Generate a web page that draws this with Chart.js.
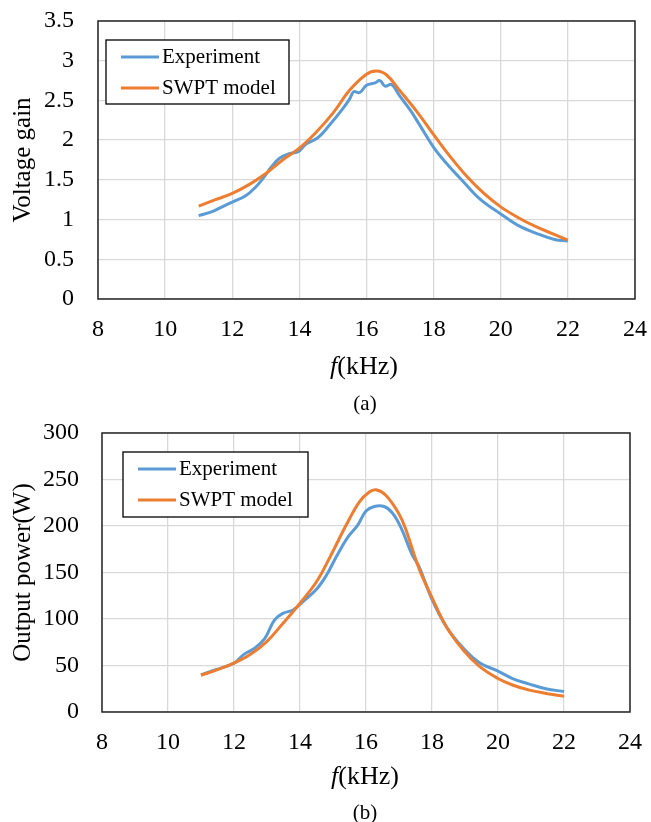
<!DOCTYPE html>
<html>
<head>
<meta charset="utf-8">
<script src="https://cdn.jsdelivr.net/npm/chart.js@4.4.1/dist/chart.umd.min.js"></script>
<style>
  html, body { margin:0; padding:0; background:#fff; }
  body { width:651px; height:822px; position:relative; overflow:hidden; font-family:"Liberation Serif","Times New Roman",serif; color:#000; }
  .wrap { position:absolute; left:0; width:651px; }
  #wrapA { top:0; height:400px; }
  #wrapB { top:400px; height:422px; }
  .lbl { position:absolute; transform:translate(-50%,-50%); white-space:nowrap; line-height:1; }
  .xt { font-size:26px; }
  .cap { font-size:21px; }
</style>
</head>
<body>
<div class="wrap" id="wrapA"><canvas id="chartA" width="651" height="400"></canvas></div>
<div class="wrap" id="wrapB"><canvas id="chartB" width="651" height="422"></canvas></div>
<div class="lbl xt" style="left:364px; top:366px;"><i>f</i>(kHz)</div>
<div class="lbl cap" style="left:365px; top:403px;">(a)</div>
<div class="lbl xt" style="left:365px; top:776px;"><i>f</i>(kHz)</div>
<div class="lbl cap" style="left:365px; top:812px;">(b)</div>

<script>
// (a) voltage gain
const expFreqA  = [11.0, 11.4, 11.7, 12.0, 12.4, 12.7, 12.9, 13.2, 13.4, 13.7, 13.95, 14.2, 14.55, 14.9, 15.3, 15.5, 15.62, 15.8, 16.0, 16.25, 16.4, 16.55, 16.75, 17.0, 17.3, 17.6, 18.0, 18.4, 18.9, 19.4, 19.9, 20.0, 20.5, 21.1, 21.6, 22.0];
const expGainA  = [1.05, 1.10, 1.16, 1.22, 1.30, 1.41, 1.51, 1.68, 1.77, 1.83, 1.85, 1.95, 2.03, 2.19, 2.40, 2.52, 2.61, 2.60, 2.69, 2.72, 2.75, 2.68, 2.70, 2.55, 2.38, 2.18, 1.91, 1.70, 1.47, 1.25, 1.10, 1.07, 0.93, 0.82, 0.75, 0.73];
const modFreqA  = [11.0, 11.5, 12.0, 12.5, 13.0, 13.5, 14.0, 14.5, 15.0, 15.5, 16.0, 16.3, 16.6, 17.0, 17.5, 18.0, 18.5, 19.0, 19.5, 20.0, 20.5, 21.0, 21.5, 22.0];
const modGainA  = [1.17, 1.25, 1.33, 1.44, 1.58, 1.75, 1.90, 2.10, 2.34, 2.63, 2.83, 2.87, 2.82, 2.62, 2.36, 2.07, 1.79, 1.54, 1.33, 1.16, 1.03, 0.92, 0.83, 0.74];

// (b) output power
const expFreqB  = [11.0, 11.45, 12.0, 12.3, 12.6, 12.93, 13.23, 13.48, 13.8, 14.1, 14.5, 14.8, 15.1, 15.45, 15.75, 16.0, 16.25, 16.55, 16.8, 17.05, 17.4, 17.6, 18.0, 18.43, 18.94, 19.44, 20.0, 20.44, 20.95, 21.45, 22.0];
const expPowB   = [40, 45.5, 52.5, 62, 68, 79, 99, 106, 110, 119, 132, 147, 167, 188, 201, 216, 221, 221, 214, 199, 169, 157, 121, 92, 69, 53, 44, 36, 30, 25, 22];
const modFreqB  = [11.0, 11.5, 12.0, 12.5, 13.0, 13.5, 14.0, 14.5, 14.9, 15.4, 15.8, 16.1, 16.3, 16.6, 17.0, 17.2, 17.6, 18.0, 18.43, 18.94, 19.44, 20.0, 20.44, 20.95, 21.45, 22.0];
const modPowB   = [39.5, 45.5, 52.5, 62, 76, 96, 117, 140, 166, 201, 226, 236.5, 239, 233, 213, 197, 155, 123, 92, 67, 49, 36, 29, 23.5, 20, 17];

const seriesLabels = ["Experiment", "SWPT model"];
const xTicks = [8, 10, 12, 14, 16, 18, 20, 22, 24];

const BLUE = "#5B9BD5", ORANGE = "#ED7D31";
Chart.defaults.font.family = "'Liberation Serif', 'Times New Roman', serif";
Chart.defaults.color = "#000";

const pts = (xs, ys) => xs.map((x, i) => ({ x, y: ys[i] }));

// black box round the plot area
const framePlugin = {
  id: "frame",
  afterDatasetsDraw(chart) {
    const { ctx, chartArea: a } = chart;
    ctx.save();
    ctx.strokeStyle = "#262626"; ctx.lineWidth = 1.5;
    ctx.strokeRect(a.left, a.top, a.right - a.left, a.bottom - a.top);
    ctx.restore();
  }
};

// boxed legend inside the plot, excel style
const boxLegend = {
  id: "boxLegend",
  afterDraw(chart, args, opts) {
    const { ctx, chartArea: a } = chart;
    const x = a.left + opts.x, y = a.top + opts.y;
    ctx.save();
    ctx.fillStyle = "#fff"; ctx.fillRect(x, y, opts.w, opts.h);
    ctx.strokeStyle = "#000"; ctx.lineWidth = 1.3; ctx.strokeRect(x, y, opts.w, opts.h);
    ctx.font = "21px 'Liberation Serif'"; ctx.textBaseline = "middle"; ctx.textAlign = "left";
    chart.data.datasets.forEach((ds, i) => {
      const ry = y + 17 + i * 31;
      ctx.strokeStyle = ds.borderColor; ctx.lineWidth = 3;
      ctx.beginPath(); ctx.moveTo(x + 15, ry); ctx.lineTo(x + 53, ry); ctx.stroke();
      ctx.fillStyle = "#000";
      ctx.fillText(ds.label, x + 56, ry);
    });
    ctx.restore();
  }
};

function makeChart(id, cfg) {
  return new Chart(document.getElementById(id), {
    type: "scatter",
    data: {
      datasets: [
        { label: seriesLabels[0], data: pts(cfg.ex, cfg.ey), borderColor: BLUE, backgroundColor: BLUE,
          showLine: true, borderWidth: 3, pointRadius: 0, tension: 0.4, order: 2 },
        { label: seriesLabels[1], data: pts(cfg.mx, cfg.my), borderColor: ORANGE, backgroundColor: ORANGE,
          showLine: true, borderWidth: 3, pointRadius: 0, tension: 0.4, order: 1 }
      ]
    },
    options: {
      responsive: false,
      devicePixelRatio: 1,
      animation: false,
      layout: { padding: cfg.pad },
      plugins: {
        legend: { display: false },
        tooltip: { enabled: false },
        boxLegend: cfg.legend
      },
      scales: {
        x: {
          type: "linear", min: 8, max: 24,
          afterBuildTicks: (s) => { s.ticks = xTicks.map(v => ({ value: v })); },
          // fixed axis box, and no extra room for the end labels
          afterFit: (s) => { s.height = cfg.xh; s.paddingLeft = 0; s.paddingRight = 0; },
          grid: { color: "#d9d9d9", lineWidth: 1.3, drawTicks: false },
          border: { display: false },
          ticks: { font: { size: 24 }, padding: 16, maxRotation: 0 }
        },
        y: {
          min: 0, max: cfg.ymax,
          afterFit: (s) => { s.width = cfg.yw; s.paddingTop = 0; s.paddingBottom = 0; },
          grid: { color: "#d9d9d9", lineWidth: 1.3, drawTicks: false },
          border: { display: false },
          ticks: { stepSize: cfg.ystep, font: { size: 24 }, padding: cfg.ypad, callback: (v) => String(v) },
          title: { display: true, text: cfg.ytitle, font: { size: 25 }, padding: { top: 8, bottom: 0 } }
        }
      }
    },
    plugins: [framePlugin, boxLegend]
  });
}

makeChart("chartA", {
  ex: expFreqA, ey: expGainA, mx: modFreqA, my: modGainA,
  ymax: 3.5, ystep: 0.5, ytitle: "Voltage gain",
  pad: { left: 0, right: 16, top: 21, bottom: 0 }, yw: 98, xh: 101, ypad: 24,
  legend: { x: 8, y: 19, w: 183, h: 64 }
});

makeChart("chartB", {
  ex: expFreqB, ey: expPowB, mx: modFreqB, my: modPowB,
  ymax: 300, ystep: 50, ytitle: "Output power(W)",
  pad: { left: 0, right: 21, top: 33, bottom: 0 }, yw: 102, xh: 110, ypad: 23,
  legend: { x: 21, y: 19, w: 185, h: 65 }
});
</script>
</body>
</html>
